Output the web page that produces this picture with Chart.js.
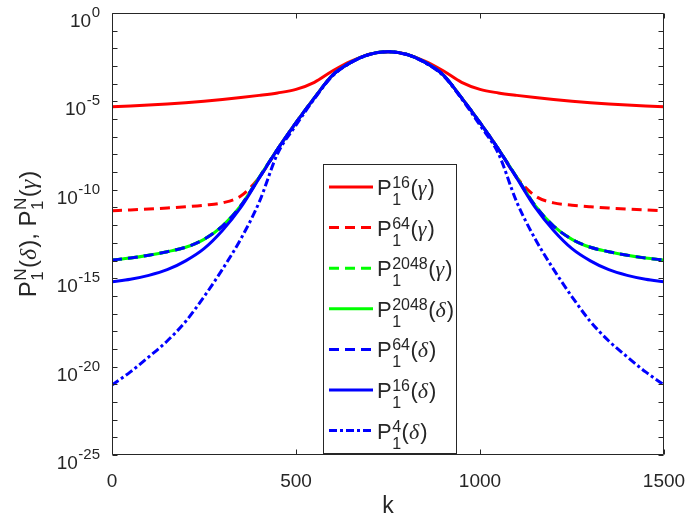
<!DOCTYPE html>
<html>
<head>
<meta charset="utf-8">
<script src="https://cdn.jsdelivr.net/npm/chart.js@4.4.1/dist/chart.umd.min.js"></script>
<style>
  html, body { margin: 0; padding: 0; background: #fff; }
  #wrap { width: 685px; height: 525px; }
</style>
</head>
<body>
<div id="wrap"><canvas id="chart" width="685" height="525"></canvas></div>
<script>
// k axis positions
const kValues = [0, 50, 100, 150, 200, 250, 300, 350, 400, 450, 500, 550, 600, 650, 700, 750,
                 800, 850, 900, 950, 1000, 1050, 1100, 1150, 1200, 1250, 1300, 1350, 1400, 1450, 1500];

// (log axis)
const p16Gamma = [5.0e-6, 5.5e-6, 6.17e-6, 7.08e-6, 8.32e-6, 1.02e-5, 1.29e-5, 1.66e-5, 2.19e-5, 3.02e-5, 4.79e-5, 1.2e-4, 5.37e-4, 1.9e-3, 4.68e-3, 6.46e-3,
                  4.68e-3, 1.9e-3, 5.37e-4, 1.2e-4, 4.79e-5, 3.02e-5, 2.19e-5, 1.66e-5, 1.29e-5, 1.02e-5, 8.32e-6, 7.08e-6, 6.17e-6, 5.5e-6, 5.0e-6];
const p64Gamma = [6.6e-12, 7.24e-12, 8.13e-12, 9.33e-12, 1.1e-11, 1.35e-11, 1.82e-11, 4.47e-11, 5.0e-10, 2.0e-8, 6.3e-7, 1.58e-5, 3.16e-4, 1.66e-3, 4.68e-3, 6.46e-3,
                  4.68e-3, 1.66e-3, 3.16e-4, 1.58e-5, 6.3e-7, 2.0e-8, 5.0e-10, 4.47e-11, 1.82e-11, 1.35e-11, 1.1e-11, 9.33e-12, 8.13e-12, 7.24e-12, 6.6e-12];
const p2048Gamma = [1.07e-14, 1.38e-14, 2.0e-14, 3.16e-14, 5.62e-14, 1.58e-13, 8.9e-13, 1.26e-11, 5.0e-10, 2.0e-8, 6.3e-7, 1.58e-5, 3.16e-4, 1.66e-3, 4.68e-3, 6.46e-3,
                    4.68e-3, 1.66e-3, 3.16e-4, 1.58e-5, 6.3e-7, 2.0e-8, 5.0e-10, 1.26e-11, 8.9e-13, 1.58e-13, 5.62e-14, 3.16e-14, 2.0e-14, 1.38e-14, 1.07e-14];
const p2048Delta = [1.07e-14, 1.38e-14, 2.0e-14, 3.16e-14, 5.62e-14, 1.58e-13, 8.9e-13, 1.26e-11, 5.0e-10, 2.0e-8, 6.3e-7, 1.58e-5, 3.16e-4, 1.66e-3, 4.68e-3, 6.46e-3,
                    4.68e-3, 1.66e-3, 3.16e-4, 1.58e-5, 6.3e-7, 2.0e-8, 5.0e-10, 1.26e-11, 8.9e-13, 1.58e-13, 5.62e-14, 3.16e-14, 2.0e-14, 1.38e-14, 1.07e-14];
const p64Delta = [1.07e-14, 1.38e-14, 2.0e-14, 3.16e-14, 5.62e-14, 1.58e-13, 8.9e-13, 1.26e-11, 5.0e-10, 2.0e-8, 6.3e-7, 1.58e-5, 3.16e-4, 1.66e-3, 4.68e-3, 6.46e-3,
                  4.68e-3, 1.66e-3, 3.16e-4, 1.58e-5, 6.3e-7, 2.0e-8, 5.0e-10, 1.26e-11, 8.9e-13, 1.58e-13, 5.62e-14, 3.16e-14, 2.0e-14, 1.38e-14, 1.07e-14];
const p16Delta = [6.3e-16, 8.7e-16, 1.45e-15, 3.02e-15, 9.55e-15, 4.68e-14, 5.0e-13, 1.0e-11, 4.47e-10, 2.0e-8, 6.3e-7, 1.58e-5, 3.16e-4, 1.66e-3, 4.68e-3, 6.46e-3,
                  4.68e-3, 1.66e-3, 3.16e-4, 1.58e-5, 6.3e-7, 2.0e-8, 4.47e-10, 1.0e-11, 5.0e-13, 4.68e-14, 9.55e-15, 3.02e-15, 1.45e-15, 8.7e-16, 6.3e-16];
const p4Delta = [9.1e-22, 5.0e-21, 3.55e-20, 2.82e-19, 3.55e-18, 8.9e-17, 3.16e-15, 1.66e-13, 2.0e-11, 1.12e-8, 4.47e-7, 1.41e-5, 2.82e-4, 1.58e-3, 4.47e-3, 6.46e-3,
                 4.47e-3, 1.58e-3, 2.82e-4, 1.41e-5, 4.47e-7, 1.12e-8, 2.0e-11, 1.66e-13, 3.16e-15, 8.9e-17, 3.55e-18, 2.82e-19, 3.55e-20, 5.0e-21, 9.1e-22];

// tick labels
const xTicks = [0, 500, 1000, 1500];
const yExponents = [0, -5, -10, -15, -20, -25];

// legend: [superscript, greek]
const seriesNames = [['16', 'γ'], ['64', 'γ'], ['2048', 'γ'], ['2048', 'δ'], ['64', 'δ'], ['16', 'δ'], ['4', 'δ']];

const RED = '#ff0000', GREEN = '#00ff00', BLUE = '#0000ff';
const axisColor = '#262626';
const DASH = [10, 6];
const DASHDOT = [8, 3, 3, 3];

function pts(vals) {
  return vals.map(function (v, i) { return { x: kValues[i], y: v }; });
}

const seriesStyles = [
  { data: p16Gamma, color: RED, dash: [] },
  { data: p64Gamma, color: RED, dash: DASH },
  { data: p2048Gamma, color: GREEN, dash: DASH },
  { data: p2048Delta, color: GREEN, dash: [] },
  { data: p64Delta, color: BLUE, dash: DASH },
  { data: p16Delta, color: BLUE, dash: [] },
  { data: p4Delta, color: BLUE, dash: DASHDOT }
];

const datasets = seriesStyles.map(function (s, i) {
  return {
    label: 'P' + seriesNames[i][0] + seriesNames[i][1],
    data: pts(s.data),
    borderColor: s.color,
    borderWidth: 3,
    borderDash: s.dash,
    pointRadius: 0,
    fill: false,
    cubicInterpolationMode: 'monotone',
    order: seriesStyles.length - 1 - i   // later series drawn on top
  };
});

// draws P^{sup}_1(greek) from x on baseline y, returns end x
function drawP(ctx, x, y, sup, greek, main, script, supDy, subDy) {
  ctx.textAlign = 'left';
  ctx.textBaseline = 'alphabetic';
  ctx.font = main + 'px "Liberation Sans"';
  ctx.fillText('P', x, y);
  x += ctx.measureText('P').width + 0.5;
  ctx.font = script + 'px "Liberation Sans"';
  ctx.fillText(sup, x, y - supDy);
  ctx.fillText('1', x, y + subDy);
  x += Math.max(ctx.measureText(sup).width, ctx.measureText('1').width) + 0.5;
  ctx.font = main + 'px "Liberation Sans"';
  ctx.fillText('(', x, y);
  x += ctx.measureText('(').width;
  ctx.font = 'italic ' + main + 'px "Liberation Serif"';
  ctx.fillText(greek, x, y);
  x += ctx.measureText(greek).width + 1;
  ctx.font = main + 'px "Liberation Sans"';
  ctx.fillText(')', x, y);
  x += ctx.measureText(')').width;
  return x;
}

const matlabAxes = {
  id: 'matlabAxes',
  afterDraw: function (chart) {
    const ctx = chart.ctx, a = chart.chartArea;
    const xs = chart.scales.x, ys = chart.scales.y;
    const L = Math.round(a.left) + 0.5, R = Math.round(a.right) - 0.5;
    const T = Math.round(a.top) + 0.5, B = Math.round(a.bottom) - 0.5;
    ctx.save();
    ctx.strokeStyle = axisColor;
    ctx.lineWidth = 1;
    ctx.beginPath();
    ctx.rect(L, T, R - L, B - T);
    // y ticks every decade, both sides
    for (let e = 0; e >= -25; e--) {
      const y = Math.round(ys.getPixelForValue(Math.pow(10, e))) + 0.5;
      ctx.moveTo(L, y); ctx.lineTo(L + 5, y);
      ctx.moveTo(R, y); ctx.lineTo(R - 5, y);
    }
    xTicks.forEach(function (k) {
      const x = Math.round(xs.getPixelForValue(k)) + 0.5;
      ctx.moveTo(x, B); ctx.lineTo(x, B - 5);
      ctx.moveTo(x, T); ctx.lineTo(x, T + 5);
    });
    ctx.stroke();

    ctx.fillStyle = axisColor;
    // x tick labels
    ctx.font = '19px "Liberation Sans"';
    ctx.textAlign = 'center';
    ctx.textBaseline = 'alphabetic';
    xTicks.forEach(function (k) {
      ctx.fillText(String(k), xs.getPixelForValue(k), 487);
    });
    // x title
    ctx.font = '23px "Liberation Sans"';
    ctx.fillText('k', (a.left + a.right) / 2, 513);

    // y tick labels 10^e
    yExponents.forEach(function (e) {
      const y = ys.getPixelForValue(Math.pow(10, e));
      ctx.textAlign = 'right';
      ctx.font = '15px "Liberation Sans"';
      const ex = String(e);
      const w = ctx.measureText(ex).width;
      ctx.fillText(ex, 100, y + 4);
      ctx.font = '19px "Liberation Sans"';
      ctx.fillText('10', 100 - w - 0.5, y + 14);
    });

    // y title, rotated
    const tm = 24, ts = 17;
    ctx.save();
    ctx.translate(36, (a.top + a.bottom) / 2);
    ctx.rotate(-Math.PI / 2);
    ctx.globalAlpha = 0;
    let x0 = drawP(ctx, 0, 0, 'N', 'δ', tm, ts, 10, 7);
    ctx.font = tm + 'px "Liberation Sans"';
    x0 += ctx.measureText(', ').width;
    x0 = drawP(ctx, x0, 0, 'N', 'γ', tm, ts, 10, 7);
    ctx.globalAlpha = 1;
    let xx = -x0 / 2;
    xx = drawP(ctx, xx, 0, 'N', 'δ', tm, ts, 10, 7);
    ctx.font = tm + 'px "Liberation Sans"';
    ctx.textAlign = 'left';
    ctx.fillText(', ', xx, 0);
    xx += ctx.measureText(', ').width;
    drawP(ctx, xx, 0, 'N', 'γ', tm, ts, 10, 7);
    ctx.restore();

    // legend box
    const bx = 323.5, by = 164.5, bw = 133, bh = 289;
    ctx.fillStyle = '#ffffff';
    ctx.fillRect(bx, by, bw, bh);
    ctx.strokeStyle = axisColor;
    ctx.strokeRect(bx, by, bw, bh);
    seriesStyles.forEach(function (s, i) {
      const ly = 187 + i * 40.6;
      ctx.save();
      ctx.strokeStyle = s.color;
      ctx.lineWidth = 3;
      ctx.setLineDash(s.dash);
      ctx.beginPath();
      ctx.moveTo(329, ly);
      ctx.lineTo(373, ly);
      ctx.stroke();
      ctx.restore();
      ctx.fillStyle = axisColor;
      drawP(ctx, 377, ly + 8, seriesNames[i][0], seriesNames[i][1], 22, 16, 7, 10);
    });
    ctx.restore();
  }
};

Chart.defaults.font.family = '"Liberation Sans", Arial, sans-serif';

new Chart(document.getElementById('chart').getContext('2d'), {
  type: 'line',
  data: { datasets: datasets },
  options: {
    responsive: false,
    animation: false,
    devicePixelRatio: 1,
    layout: { padding: { top: 13, right: 21, left: 0, bottom: 0 } },
    plugins: { legend: { display: false }, tooltip: { enabled: false } },
    scales: {
      x: {
        type: 'linear', min: 0, max: 1500,
        grid: { display: false, drawTicks: false },
        border: { display: false },
        ticks: { display: false },
        afterFit: function (s) { s.height = 70; }
      },
      y: {
        type: 'logarithmic', min: 1e-25, max: 1,
        grid: { display: false, drawTicks: false },
        border: { display: false },
        ticks: { display: false },
        afterFit: function (s) { s.width = 112; }
      }
    }
  },
  plugins: [matlabAxes]
});
</script>
</body>
</html>
